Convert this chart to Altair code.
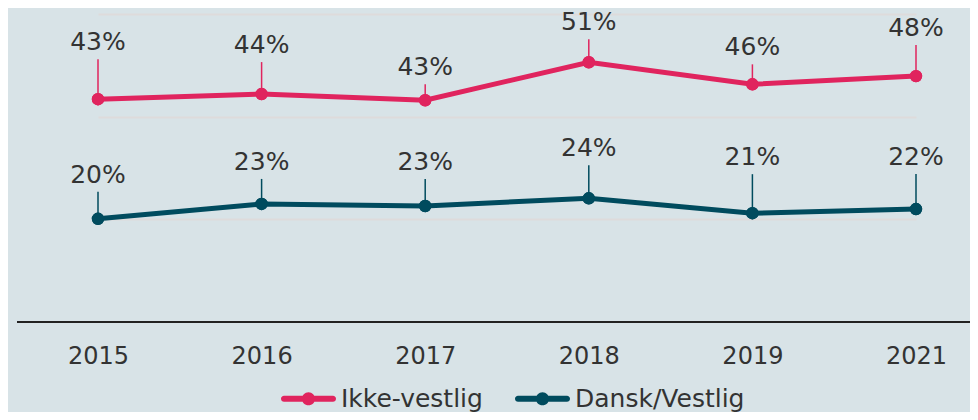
import altair as alt
import pandas as pd

# ---- data ----
years = ["2015", "2016", "2017", "2018", "2019", "2021"]
ikke_vestlig = [43.4, 44.4, 43.2, 50.6, 46.3, 47.9]
dansk_vestlig = [20.1, 23.0, 22.6, 24.1, 21.2, 22.0]
series_names = ["Ikke-vestlig", "Dansk/Vestlig"]

# ---- styling ----
colors = ["#e0245e", "#004b5e"]
label_lift_ikke = [57, 49, 33, 40, 37, 48]   # px above the point for each label
label_lift_dansk = [44, 42, 44, 50, 56, 52]
W, H, YMAX = 953, 308, 60
ppu = H / YMAX
FONT = "DejaVu Sans"
TXT = "#333333"

rows = []
for name, vals, lifts in ((series_names[0], ikke_vestlig, label_lift_ikke),
                          (series_names[1], dansk_vestlig, label_lift_dansk)):
    for yr, v, l in zip(years, vals, lifts):
        rows.append({"year": yr, "series": name, "value": v, "lift": l})
df = pd.DataFrame(rows)

base = alt.Chart(df).transform_calculate(
    label="format(datum.value, '.0f') + '%'",
    label_y=f"datum.value + datum.lift / {ppu}",
    rule_top=f"datum.value + (datum.lift - 17) / {ppu}",
)

x = alt.X(
    "year:O", sort=years, title=None,
    scale=alt.Scale(type="point", range=[81, 899], padding=0),
    axis=alt.Axis(labelAngle=0, ticks=False, domain=False,
                  labelFontSize=24, labelColor=TXT, labelFont=FONT, labelPadding=22, grid=False),
)
y = alt.Y(
    "value:Q", title=None, scale=alt.Scale(domain=[0, YMAX]),
    axis=alt.Axis(values=[20, 40, 60], labels=False, ticks=False, domain=False,
                  grid=True, gridColor="#dedbdb", gridWidth=2, minExtent=0, maxExtent=0),
)
color_scale = alt.Scale(domain=series_names, range=colors)

legend_symbol = ("M-0.89,-0.11L0.89,-0.11A0.11,0.11,0,0,1,0.89,0.11L-0.89,0.11"
                 "A0.11,0.11,0,0,1,-0.89,-0.11Z"
                 "M0.24,0A0.24,0.24,0,1,1,-0.24,0A0.24,0.24,0,1,1,0.24,0Z")
legend = alt.Legend(title=None, orient="none", direction="horizontal",
                    legendX=264, legendY=357,
                    symbolType=legend_symbol, symbolSize=3025,
                    symbolStrokeWidth=0, symbolOpacity=1, labelFontSize=25,
                    labelColor=TXT, labelFont=FONT, labelOffset=5, labelLimit=400,
                    columnPadding=32)
color = alt.Color("series:N", scale=color_scale, sort=series_names, legend=legend)

baseline = alt.Chart(df).mark_rule(color="#222222", strokeWidth=2).encode(y=alt.datum(0))
rules = base.mark_rule(strokeWidth=1.5).encode(x=x, y=y, y2="rule_top:Q", color=color)
lines = base.mark_line(strokeWidth=5).encode(x=x, y=y, color=color)
points = base.mark_circle(size=154, opacity=1).encode(x=x, y=y, color=color)
texts = base.mark_text(fontSize=25, font=FONT, color=TXT, baseline="middle").encode(
    x=x, y=alt.Y("label_y:Q"), text="label:N",
)

chart = alt.layer(points, rules, lines, points, texts, baseline).properties(
    width=W, height=H,
    background="#d8e3e7",
    padding={"left": 9, "top": 6, "right": 0, "bottom": 90},
    autosize=alt.AutoSizeParams(type="none"),
).configure_view(stroke=None)

chart.save("out.html", embed_options={"renderer": "svg", "actions": False})
